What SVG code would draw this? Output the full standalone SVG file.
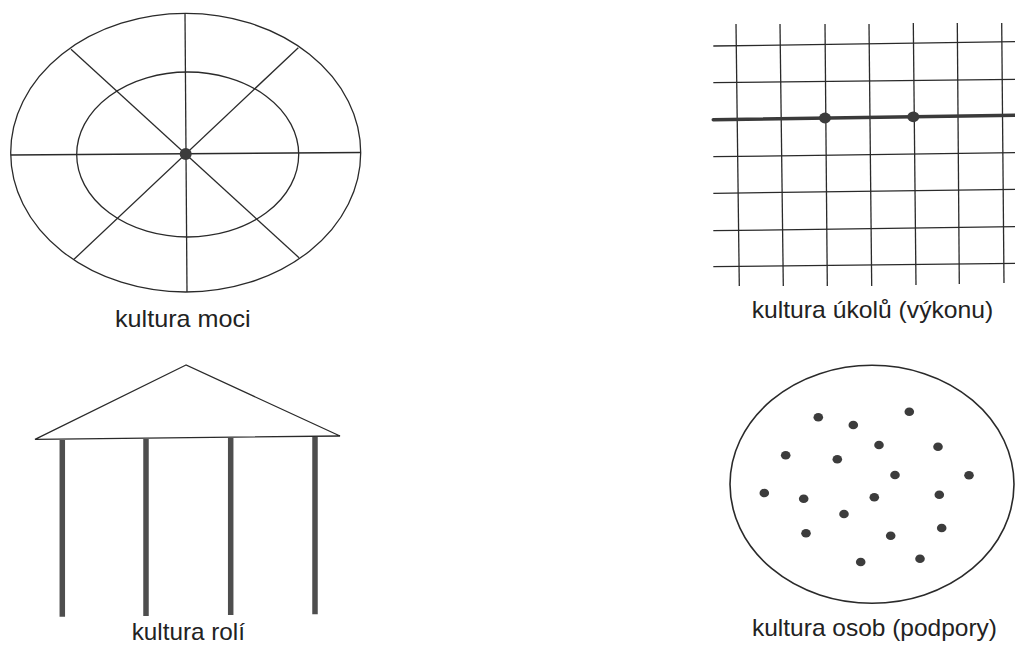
<svg xmlns="http://www.w3.org/2000/svg" width="1015" height="646" viewBox="0 0 1015 646">
<style>
.ln{stroke:#2a2a2a;stroke-width:1.3;fill:none}
.thick{stroke:#3a3a3a;stroke-width:3.6;fill:none;stroke-linecap:round}
.dot{fill:#3c3c3c}
.pillar{stroke:#4e4e4e;stroke-width:5.5}
.lbl{font-family:"Liberation Sans",Arial,sans-serif;font-size:24px;fill:#222}
</style>
<rect width="1015" height="646" fill="#fff"/>
<g id="power">
<ellipse class="ln" cx="185.7" cy="152.7" rx="175" ry="139.3"/>
<ellipse class="ln" cx="187.7" cy="154.5" rx="111" ry="82.5"/>
<line class="ln" x1="10.7" y1="155" x2="360.7" y2="152.5"/>
<line class="ln" x1="185" y1="13.4" x2="187" y2="292"/>
<line class="ln" x1="71" y1="49.3" x2="299" y2="257.7"/>
<line class="ln" x1="298.3" y1="47.7" x2="74" y2="259.3"/>
<circle class="dot" cx="185.7" cy="154" r="6"/>
<text class="lbl" x="115" y="327" textLength="135.7" lengthAdjust="spacingAndGlyphs">kultura moci</text>
</g>
<g id="task">
<line class="ln" x1="736" y1="24" x2="739.3" y2="286"/>
<line class="ln" x1="780" y1="24" x2="783.3" y2="286"/>
<line class="ln" x1="825" y1="24" x2="827.3" y2="286"/>
<line class="ln" x1="869" y1="24" x2="871.7" y2="286"/>
<line class="ln" x1="913.3" y1="23" x2="916" y2="285"/>
<line class="ln" x1="957.3" y1="23" x2="959.3" y2="284"/>
<line class="ln" x1="1001.7" y1="23" x2="1004" y2="283"/>
<line class="ln" x1="713.3" y1="46" x2="1015" y2="41.7"/>
<line class="ln" x1="713.3" y1="82.7" x2="1015" y2="79.3"/>
<line class="ln" x1="713.3" y1="156.7" x2="1015" y2="152.7"/>
<line class="ln" x1="713.3" y1="193.3" x2="1015" y2="189.3"/>
<line class="ln" x1="713.3" y1="230.7" x2="1015" y2="226.7"/>
<line class="ln" x1="713.3" y1="266.7" x2="1015" y2="263.3"/>
<line class="thick" x1="713.3" y1="119.8" x2="1015" y2="115.3"/>
<ellipse class="dot" cx="825" cy="118" rx="6" ry="5.4"/>
<ellipse class="dot" cx="913.3" cy="116.8" rx="6" ry="5.4"/>
<text class="lbl" x="751.7" y="318" textLength="241.6" lengthAdjust="spacingAndGlyphs">kultura úkolů (výkonu)</text>
</g>
<g id="role">
<polygon class="ln" points="186,365 35,439.3 340,436"/>
<line class="pillar" x1="62.3" y1="440" x2="62.3" y2="616.7"/>
<line class="pillar" x1="146" y1="439" x2="146" y2="616"/>
<line class="pillar" x1="230.7" y1="438" x2="230.7" y2="615"/>
<line class="pillar" x1="315" y1="437" x2="315" y2="614.3"/>
<text class="lbl" x="131.7" y="640" textLength="113.3" lengthAdjust="spacingAndGlyphs">kultura rolí</text>
</g>
<g id="person">
<ellipse class="ln" cx="872" cy="484.3" rx="142" ry="119" style="stroke-width:1.6"/>
<g class="dot">
<ellipse cx="818.3" cy="417.3" rx="4.8" ry="4.3"/>
<ellipse cx="853.3" cy="425" rx="4.8" ry="4.3"/>
<ellipse cx="909.3" cy="411.7" rx="4.8" ry="4.3"/>
<ellipse cx="879" cy="445" rx="4.8" ry="4.3"/>
<ellipse cx="938" cy="446.7" rx="4.8" ry="4.3"/>
<ellipse cx="785.7" cy="455.3" rx="4.8" ry="4.3"/>
<ellipse cx="837.3" cy="459.3" rx="4.8" ry="4.3"/>
<ellipse cx="895" cy="475" rx="4.8" ry="4.3"/>
<ellipse cx="969" cy="475.3" rx="4.8" ry="4.3"/>
<ellipse cx="764.3" cy="493" rx="4.8" ry="4.3"/>
<ellipse cx="803.7" cy="498.7" rx="4.8" ry="4.3"/>
<ellipse cx="874.3" cy="497.3" rx="4.8" ry="4.3"/>
<ellipse cx="939.3" cy="494.7" rx="4.8" ry="4.3"/>
<ellipse cx="844" cy="514" rx="4.8" ry="4.3"/>
<ellipse cx="806" cy="533.3" rx="4.8" ry="4.3"/>
<ellipse cx="890.7" cy="535.7" rx="4.8" ry="4.3"/>
<ellipse cx="941.7" cy="528" rx="4.8" ry="4.3"/>
<ellipse cx="860.7" cy="562" rx="4.8" ry="4.3"/>
<ellipse cx="920" cy="558.7" rx="4.8" ry="4.3"/>
</g>
<text class="lbl" x="752" y="636" textLength="245" lengthAdjust="spacingAndGlyphs">kultura osob (podpory)</text>
</g>
<g id="connectors"/>
</svg>
